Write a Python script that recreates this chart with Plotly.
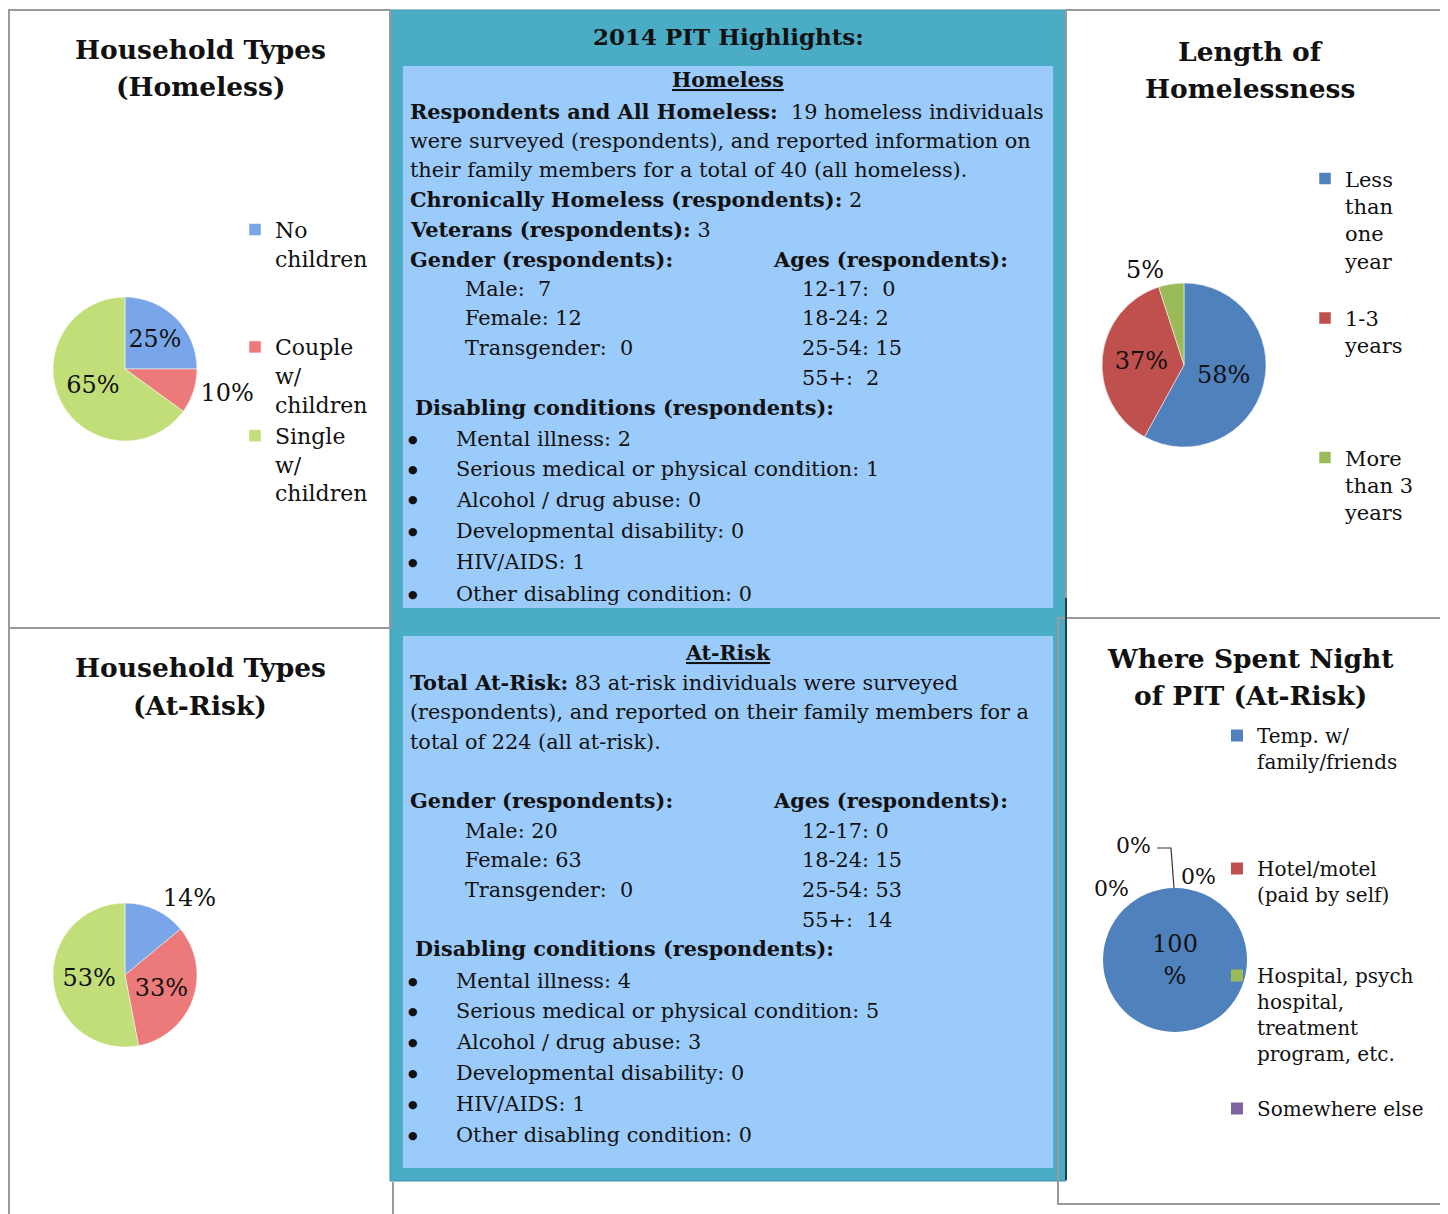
import plotly.graph_objects as go

W, H = 1448, 1214
OFF = 8                      # page body margin of the browser
FW, FH = W - OFF, H - OFF    # figure size that exactly fills the window


def px(x):
    return (x - OFF) / FW


def py(y):
    return 1 - (y - OFF) / FH


# ---------------- data ----------------
hh_labels = ["No<br>children", "Couple<br>w/<br>children", "Single<br>w/<br>children"]
hh_homeless = [25, 10, 65]
hh_atrisk = [14, 33, 53]

length_labels = ["Less<br>than<br>one<br>year", "1-3<br>years", "More<br>than 3<br>years"]
length_values = [58, 37, 5]

night_labels = ["Temp. w/<br>family/friends", "Hotel/motel<br>(paid by self)",
                "Hospital, psych<br>hospital,<br>treatment<br>program, etc.", "Somewhere else"]
night_values = [100, 0, 0, 0]

homeless_lines = [
    ("<b>Respondents and All Homeless:</b>  19 homeless individuals", 408, 111),
    ("were surveyed (respondents), and reported information on", 408, 141),
    ("their family members for a total of 40 (all homeless).", 408, 170),
    ("<b>Chronically Homeless (respondents):</b> 2", 408, 200),
    ("<b>Veterans (respondents):</b> 3", 408, 230),
    ("<b>Gender (respondents):</b>", 408, 259),
    ("<b>Ages (respondents):</b>", 771, 259),
    ("Male:  7", 463, 289), ("12-17:  0", 800, 289),
    ("Female: 12", 463, 318), ("18-24: 2", 800, 318),
    ("Transgender:  0", 463, 348), ("25-54: 15", 800, 348),
    ("55+:  2", 800, 378),
    ("<b>Disabling conditions (respondents):</b>", 413, 407),
]
homeless_bullets = ["Mental illness: 2", "Serious medical or physical condition: 1",
                    "Alcohol / drug abuse: 0", "Developmental disability: 0",
                    "HIV/AIDS: 1", "Other disabling condition: 0"]
homeless_bullet_y = [439, 469, 500, 531, 562, 594]

atrisk_lines = [
    ("<b>Total At-Risk:</b> 83 at-risk individuals were surveyed", 408, 682),
    ("(respondents), and reported on their family members for a", 408, 712),
    ("total of 224 (all at-risk).", 408, 742),
    ("<b>Gender (respondents):</b>", 408, 801),
    ("<b>Ages (respondents):</b>", 771, 801),
    ("Male: 20", 463, 831), ("12-17: 0", 800, 831),
    ("Female: 63", 463, 860), ("18-24: 15", 800, 860),
    ("Transgender:  0", 463, 890), ("25-54: 53", 800, 890),
    ("55+:  14", 800, 920),
    ("<b>Disabling conditions (respondents):</b>", 413, 949),
]
atrisk_bullets = ["Mental illness: 4", "Serious medical or physical condition: 5",
                  "Alcohol / drug abuse: 3", "Developmental disability: 0",
                  "HIV/AIDS: 1", "Other disabling condition: 0"]
atrisk_bullet_y = [981, 1011, 1042, 1073, 1104, 1135]

# ---------------- styles ----------------
SERIF = "DejaVu Serif"
BODY = "DejaVu Serif"
BODY_SIZE = 20.8
hh_colors = ["#79A6E8", "#EC7A7A", "#C2DE78"]
office_colors = ["#4F81BD", "#C0504D", "#9BBB59", "#8064A2"]


def pct(vals):
    t = sum(vals)
    return [f"{round(v / t * 100)}%" for v in vals]


def dom(cx, cy, r):
    return dict(x=[px(cx - r), px(cx + r)], y=[py(cy + r), py(cy - r)])


fig = go.Figure()

pie_common = dict(sort=False, direction="clockwise", rotation=0,
                  textinfo="text", hoverinfo="label+percent",
                  textfont=dict(family=SERIF, size=24, color="#111111"),
                  insidetextorientation="horizontal")


def pad(labels, extra):
    return [l + "<br> " * e for l, e in zip(labels, extra)]


fig.add_trace(go.Pie(labels=pad(hh_labels, [2, 0, 0]), values=hh_homeless,
                     text=pct(hh_homeless), textposition=["inside", "outside", "inside"],
                     marker=dict(colors=hh_colors, line=dict(color="white", width=0.5)),
                     domain=dom(125, 369, 72), legend="legend", **pie_common))
fig.add_trace(go.Pie(labels=pad(hh_labels, [2, 0, 0]), values=hh_atrisk,
                     text=pct(hh_atrisk), textposition=["outside", "inside", "inside"],
                     marker=dict(colors=hh_colors, line=dict(color="white", width=0.5)),
                     domain=dom(125, 975, 72), legend="legend2", **pie_common))
fig.add_trace(go.Pie(labels=pad(length_labels, [1, 3, 0]), values=length_values,
                     text=pct(length_values), textposition=["inside", "inside", "outside"],
                     marker=dict(colors=office_colors[:3], line=dict(color="white", width=0.5)),
                     domain=dom(1184, 365, 82), legend="legend3", **pie_common))
night_pct = pct(night_values)
night_text = [t.replace("100%", "100<br>%") for t in night_pct]
fig.add_trace(go.Pie(labels=pad(night_labels, [3, 2, 1, 0]), values=night_values,
                     text=night_text, textposition=["inside", "none", "none", "none"],
                     marker=dict(colors=office_colors, line=dict(width=0)),
                     domain=dom(1175, 960, 72), legend="legend4", **pie_common))

shapes = []
grey = "#9A9A9A"
# panel borders
shapes.append(dict(type="rect", x0=px(9), x1=px(390), y0=py(628), y1=py(10),
                   line=dict(color=grey, width=2)))
shapes.append(dict(type="line", x0=px(9), x1=px(9), y0=py(628), y1=py(1214),
                   line=dict(color=grey, width=2)))
shapes.append(dict(type="rect", x0=px(1066), x1=px(1444), y0=py(618), y1=py(10),
                   line=dict(color=grey, width=2)))
shapes.append(dict(type="rect", x0=px(1058), x1=px(1442), y0=py(1204), y1=py(618),
                   line=dict(color=grey, width=2)))
shapes.append(dict(type="line", x0=px(393), x1=px(393), y0=py(1182), y1=py(1214),
                   line=dict(color=grey, width=2)))
# center teal box
shapes.append(dict(type="rect", x0=px(390), x1=px(1066), y0=py(1181), y1=py(10),
                   fillcolor="#4BACC6", line=dict(color="#3E8FA6", width=1), layer="below"))
shapes.append(dict(type="line", x0=px(1066), x1=px(1066), y0=py(1180), y1=py(598),
                   line=dict(color="#1F3F4A", width=2)))
shapes.append(dict(type="rect", x0=px(403), x1=px(1053), y0=py(608), y1=py(66),
                   fillcolor="#9BCBFA", line=dict(width=0), layer="below"))
shapes.append(dict(type="rect", x0=px(403), x1=px(1053), y0=py(1168), y1=py(636),
                   fillcolor="#9BCBFA", line=dict(width=0), layer="below"))
# leader line for a zero slice label of the night pie
shapes.append(dict(type="path", path=f"M {px(1157)},{py(848)} L {px(1171)},{py(848)} L {px(1174)},{py(888)}",
                   xref="paper", yref="paper", line=dict(color="#333333", width=1.2)))

ann = []


def text(t, x, y, size=21, anchor="left", family=BODY, color="#111111"):
    ann.append(dict(text=t, x=px(x), y=py(y), xref="paper", yref="paper",
                    xanchor=anchor, yanchor="middle", showarrow=False,
                    font=dict(family=family, size=size, color=color)))


# panel titles
for t, x, y in [("<b>Household Types</b>", 200, 50), ("<b>(Homeless)</b>", 200, 87),
                ("<b>Length of</b>", 1250, 51), ("<b>Homelessness</b>", 1250, 88),
                ("<b>Household Types</b>", 200, 668), ("<b>(At-Risk)</b>", 200, 705),
                ("<b>Where Spent Night</b>", 1250, 658), ("<b>of PIT (At-Risk)</b>", 1250, 695)]:
    text(t, x, y, size=26.5, anchor="center", family=SERIF)

# zero-slice labels of the night pie
for t, (x, y) in zip(night_pct[1:], [(1133, 846), (1198, 876), (1111, 888)]):
    text(t, x, y, size=22, anchor="center", family=SERIF)

# center text
text("<b>2014 PIT Highlights:</b>", 728, 36, size=23, anchor="center")
text("<b><u>Homeless</u></b>", 728, 80, size=20.5, anchor="center")
text("<b><u>At-Risk</u></b>", 728, 653, size=20.5, anchor="center")
for t, x, y in homeless_lines + atrisk_lines:
    text(t, x, y, size=BODY_SIZE)
for items, ys in [(homeless_bullets, homeless_bullet_y), (atrisk_bullets, atrisk_bullet_y)]:
    for t, y in zip(items, ys):
        text("●", 406, y, size=11)
        text(t, 454, y, size=BODY_SIZE)


def legend(x_text, y_first, size):
    return dict(x=px(x_text - 40), y=py(y_first - 5 - size * 0.65), xanchor="left", yanchor="top",
                font=dict(family=SERIF, size=size, color="#111111"),
                bgcolor="rgba(0,0,0,0)", valign="top", itemclick=False, itemdoubleclick=False)


fig.update_layout(
    width=FW, height=FH, margin=dict(l=0, r=0, t=0, b=0),
    paper_bgcolor="white", plot_bgcolor="white",
    shapes=shapes, annotations=ann,
    legend=legend(275, 228, 22),
    legend2=legend(275, 834, 22),
    legend3=legend(1345, 177, 21),
    legend4=legend(1257, 734, 20),
)

fig.write_html("out.html")
